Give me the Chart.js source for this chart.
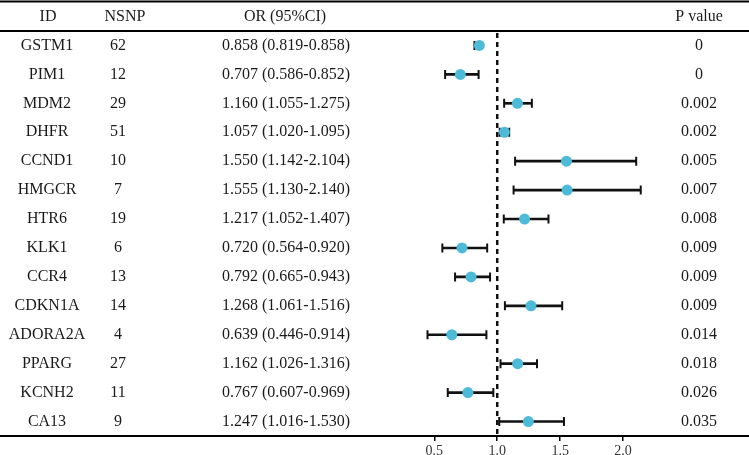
<!DOCTYPE html>
<html><head><meta charset="utf-8">
<script src="https://cdn.jsdelivr.net/npm/chart.js@4.4.1/dist/chart.umd.min.js"></script>
<style>html,body{margin:0;padding:0;background:#fff}#wrap{width:749px;height:455px;position:relative}</style>
</head><body><div id="wrap"><canvas id="c"></canvas></div>
<script>
const ids = ["GSTM1","PIM1","MDM2","DHFR","CCND1","HMGCR","HTR6","KLK1","CCR4","CDKN1A","ADORA2A","PPARG","KCNH2","CA13"];
const nsnp = [62,12,29,51,10,7,19,6,13,14,4,27,11,9];
const orVals = [0.858,0.707,1.160,1.057,1.550,1.555,1.217,0.720,0.792,1.268,0.639,1.162,0.767,1.247];
const ciLow = [0.819,0.586,1.055,1.020,1.142,1.130,1.052,0.564,0.665,1.061,0.446,1.026,0.607,1.016];
const ciHigh = [0.858,0.852,1.275,1.095,2.104,2.140,1.407,0.920,0.943,1.516,0.914,1.316,0.969,1.530];
const pVals = ["0","0","0.002","0.002","0.005","0.007","0.008","0.009","0.009","0.009","0.014","0.018","0.026","0.035"];
const headers = ["ID","NSNP","OR (95%CI)","P value"];
const xTicks = [0.5,1.0,1.5,2.0];
const refValue = 1.0;

const SERIF = '"Liberation Serif","Times New Roman",serif';
const TXT = '#1a1a1a';
const DOT = '#4DBAD8';

const tablePlugin = {
  id: 'table',
  beforeDatasetsDraw(chart) {
    const {ctx, chartArea, scales} = chart;
    const x = scales.x.getPixelForValue(refValue);
    ctx.save();
    ctx.strokeStyle = '#111';
    ctx.lineWidth = 2.5;
    ctx.setLineDash([5, 4]);
    ctx.beginPath();
    ctx.moveTo(x, chartArea.top + 2);
    ctx.lineTo(x, chartArea.bottom);
    ctx.stroke();
    ctx.restore();
  },
  afterDraw(chart) {
    const {ctx, scales, width, chartArea} = chart;
    ctx.save();
    ctx.strokeStyle = '#000';
    ctx.lineWidth = 2;
    ctx.beginPath();
    ctx.moveTo(0, 1.5); ctx.lineTo(width, 1.5);
    ctx.moveTo(0, chartArea.top); ctx.lineTo(width, chartArea.top);
    ctx.stroke();
    ctx.fillStyle = TXT;
    ctx.font = '16px ' + SERIF;
    ctx.textAlign = 'center';
    ctx.textBaseline = 'middle';
    const hx = [48, 125, 285, 699];
    headers.forEach((h, i) => ctx.fillText(h, hx[i], 17));
    ids.forEach((id, i) => {
      const y = scales.y.getPixelForValue(i);
      ctx.fillText(id, 47, y);
      ctx.fillText(String(nsnp[i]), 118, y);
      ctx.fillText(orVals[i].toFixed(3) + ' (' + ciLow[i].toFixed(3) + '-' + ciHigh[i].toFixed(3) + ')', 286, y);
      ctx.fillText(pVals[i], 699, y);
    });
    ctx.restore();
  }
};

new Chart(document.getElementById('c'), {
  type: 'bar',
  data: {
    labels: ids,
    datasets: [
      {
        type: 'bar',
        indexAxis: 'y',
        data: ids.map((_, i) => [ciLow[i], ciHigh[i]]),
        backgroundColor: '#111',
        barThickness: 2,
        order: 3
      },
      {
        type: 'scatter',
        data: ids.map((id, i) => ({x: ciLow[i], y: id})),
        pointStyle: 'line',
        rotation: 90,
        radius: 4.5,
        borderColor: '#111',
        borderWidth: 2,
        order: 2
      },
      {
        type: 'scatter',
        data: ids.map((id, i) => ({x: ciHigh[i], y: id})),
        pointStyle: 'line',
        rotation: 90,
        radius: 4.5,
        borderColor: '#111',
        borderWidth: 2,
        order: 2
      },
      {
        type: 'scatter',
        data: ids.map((id, i) => ({x: orVals[i], y: id})),
        pointStyle: 'circle',
        radius: 5.5,
        backgroundColor: DOT,
        borderColor: DOT,
        borderWidth: 0,
        order: 1
      }
    ]
  },
  options: {
    responsive: true,
    maintainAspectRatio: false,
    animation: false,
    indexAxis: 'y',
    layout: {autoPadding: false, padding: {top: 31, bottom: 0, left: 0, right: 0}},
    plugins: {legend: {display: false}, tooltip: {enabled: false}},
    scales: {
      x: {
        type: 'linear',
        min: -2.95,
        max: 3.0,
        grid: {display: true, drawOnChartArea: false, drawTicks: true, tickLength: 5, color: '#000', lineWidth: 1.5},
        border: {display: true, color: '#000', width: 2},
        afterBuildTicks: (s) => { s.ticks = xTicks.map(v => ({value: v})); },
        afterFit: (s) => { s.height = 19; },
        ticks: {
          autoSkip: false,
          maxRotation: 0,
          padding: 2,
          color: '#333',
          font: {family: SERIF, size: 14},
          callback: (v) => Number(v).toFixed(1)
        }
      },
      y: {
        type: 'category',
        display: false,
        offset: true,
        grid: {display: false}
      }
    }
  },
  plugins: [tablePlugin]
});
</script></body></html>
